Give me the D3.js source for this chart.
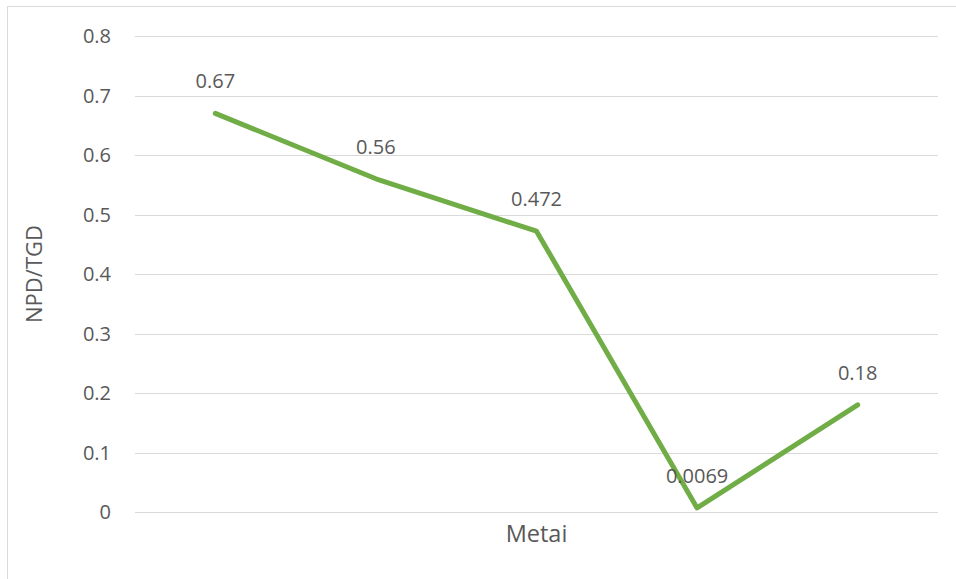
<!DOCTYPE html>
<html>
<head>
<meta charset="utf-8">
<script src="https://cdn.jsdelivr.net/npm/d3@7"></script>
<style>
  html, body { margin: 0; padding: 0; background: #fff; }
  svg { display: block; }
  text { font-family: "Open Sans", "Noto Sans", sans-serif; fill: #595959; }
</style>
</head>
<body>
<svg id="chart" width="956" height="579"></svg>
<script>
// NPD/TGD values by period
const categories = ["1", "2", "3", "4", "5"];
const values = [0.67, 0.56, 0.472, 0.0069, 0.18];
const valueLabels = ["0.67", "0.56", "0.472", "0.0069", "0.18"];
const yTicks = [0, 0.1, 0.2, 0.3, 0.4, 0.5, 0.6, 0.7, 0.8];
const yTickLabels = ["0", "0.1", "0.2", "0.3", "0.4", "0.5", "0.6", "0.7", "0.8"];
const xTitle = "Metai";
const yTitle = "NPD/TGD";

const W = 956, H = 579;
const plot = { left: 135, right: 938, top: 36, bottom: 512 };

const svg = d3.select("#chart");

// outer chart frame
svg.append("rect")
  .attr("x", 7.5).attr("y", 6.5)
  .attr("width", W + 10).attr("height", H + 10)
  .attr("fill", "none").attr("stroke", "#d9d9d9").attr("stroke-width", 1);

const x = d3.scalePoint().domain(categories).range([plot.left, plot.right]).padding(0.5);
const y = d3.scaleLinear().domain([0, 0.8]).range([plot.bottom, plot.top]);

// horizontal gridlines
svg.append("g")
  .selectAll("line")
  .data(yTicks)
  .join("line")
  .attr("x1", plot.left).attr("x2", plot.right)
  .attr("y1", d => Math.round(y(d)) + 0.5).attr("y2", d => Math.round(y(d)) + 0.5)
  .attr("stroke", "#d9d9d9").attr("stroke-width", 1);

// y-axis tick labels
const yAxis = d3.axisLeft(y)
  .tickValues(yTicks)
  .tickFormat((d, i) => yTickLabels[i])
  .tickSize(0)
  .tickPadding(0);
const gy = svg.append("g")
  .attr("transform", `translate(${plot.left - 24},0)`)
  .call(yAxis);
gy.select(".domain").remove();
gy.selectAll("text")
  .attr("font-size", 20)
  .attr("dy", "0.34em")
  .attr("fill", "#595959")
  .style("font-family", "'Open Sans', 'Noto Sans', sans-serif");

// data line
const line = d3.line()
  .x((d, i) => x(categories[i]))
  .y(d => y(d));
svg.append("path")
  .datum(values)
  .attr("d", line)
  .attr("fill", "none")
  .attr("stroke", "#70ad47")
  .attr("stroke-width", 5)
  .attr("stroke-linejoin", "round")
  .attr("stroke-linecap", "round");

// value labels
svg.append("g")
  .selectAll("text")
  .data(values)
  .join("text")
  .attr("x", (d, i) => x(categories[i]))
  .attr("y", d => y(d) - 25)
  .attr("text-anchor", "middle")
  .attr("font-size", 20)
  .attr("fill", "#404040")
  .text((d, i) => valueLabels[i]);

// axis titles
svg.append("text")
  .attr("x", (plot.left + plot.right) / 2)
  .attr("y", 542)
  .attr("text-anchor", "middle")
  .attr("font-size", 23.5)
  .text(xTitle);

svg.append("text")
  .attr("transform", `translate(42,${(plot.top + plot.bottom) / 2}) rotate(-90)`)
  .attr("text-anchor", "middle")
  .attr("font-size", 22)
  .text(yTitle);
</script>
</body>
</html>
